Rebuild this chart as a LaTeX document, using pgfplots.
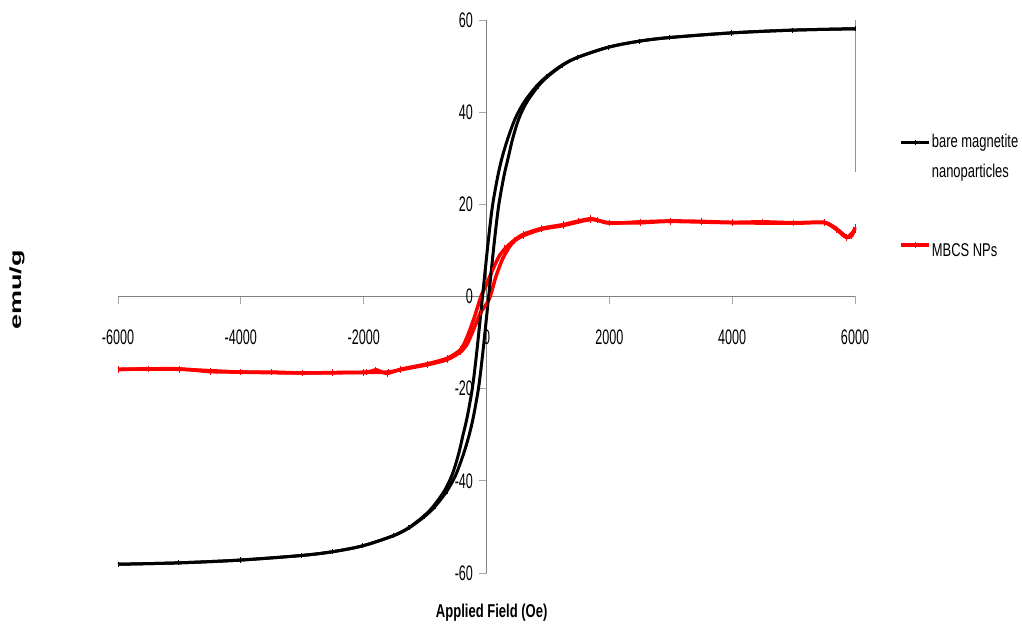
\documentclass[border=0pt]{standalone}
\usepackage{pgfplots}
\pgfplotsset{compat=1.18}
\usepackage{fontspec}
\setmainfont{Liberation Sans}[FakeStretch=0.7]
\newfontfamily\tickfont{Liberation Sans}[FakeStretch=0.6]
\newfontfamily\plainfont{Liberation Sans}
\pgfplotsset{
  redleg/.style={legend image code/.code={\draw[##1,mark repeat=2,mark phase=2] plot coordinates {(0pt,6pt) (14pt,6pt) (28pt,6pt)};}},
  blackleg/.style={legend image code/.code={\draw[##1,mark repeat=2,mark phase=2] plot coordinates {(0pt,14pt) (14pt,14pt) (28pt,14pt)};}},
}
\begin{document}
\begin{tikzpicture}
\useasboundingbox (0,0) rectangle (1022pt,629pt);
\begin{axis}[
 at={(118pt,56pt)}, anchor=south west,
 scale only axis, width=737pt, height=553pt,
 xmin=-6000,xmax=6000,ymin=-60,ymax=60,
 axis lines=middle,
 axis line style={draw=gray, line width=0.9pt, -},
 xtick={-6000,-4000,...,6000}, ytick={-60,-40,...,60},
 hide obscured x ticks=false, hide obscured y ticks=false,
 tick align=outside, major tick length=8pt,
 tick style={draw=gray!70, line width=0.9pt},
 /pgf/number format/assume math mode=true,
 /pgf/number format/1000 sep={},
 every x tick label/.style={font=\tickfont\fontsize{21}{21}\selectfont, anchor=north, yshift=-22pt},
 every y tick label/.style={font=\tickfont\fontsize{21}{21}\selectfont, anchor=east, xshift=-2pt},
 every axis x label/.style={at={(axis description cs:0.507,-0.072)}, anchor=center, font=\bfseries\fontsize{18.6}{20}\selectfont},
 every axis y label/.style={at={(axis description cs:-0.137,0.512)}, anchor=center, rotate=90, yscale=0.6, font=\plainfont\bfseries\fontsize{27}{27}\selectfont},
 xlabel={Applied Field (Oe)},
 ylabel={emu/g},
 clip=false,
 reverse legend,
 legend style={at={(axis description cs:1.064,0.80)}, xshift=-6pt, anchor=north west, draw=none, fill=none,
   font=\fontsize{18.5}{30}\selectfont, row sep=62pt, nodes={align=left, inner sep=1pt}, cells={anchor=base west}},
 legend cell align=left,
]
% MBCS NPs (red)
\addplot[red, line width=3.5pt, smooth, tension=0.4, mark=|, mark size=3.2pt, mark options={line width=1pt}, redleg] coordinates {
(6000,15.0)(5950,13.2)(5865,12.9)(5700,14.7)(5500,16.1)(5000,16.0)(4500,16.2)(4000,16.1)(3500,16.3)(3000,16.4)(2500,16.2)(2000,15.9)(1800,16.6)(1700,16.9)(1500,16.4)(1250,15.6)(900,14.8)(600,13.5)(450,12.2)(300,10.4)(200,8.6)(100,5.8)(0,2.6)(-90,0)(-200,-4.6)(-310,-8.6)(-420,-11.5)(-640,-13.4)(-960,-14.6)(-1400,-15.8)(-1620,-16.7)(-1800,-15.9)(-1950,-16.4)(-2500,-16.5)(-3000,-16.6)(-3500,-16.4)(-4000,-16.4)(-4500,-16.3)(-5000,-15.7)(-5500,-15.7)(-6000,-15.8)
};
\addlegendentry{MBCS NPs}
\addplot[red, line width=3.5pt, smooth, tension=0.4, mark=|, mark size=3.2pt, mark options={line width=1pt}, forget plot] coordinates {
(-6000,-15.8)(-5000,-15.8)(-4000,-16.4)(-3000,-16.6)(-2000,-16.5)(-1600,-16.4)(-1400,-15.9)(-960,-14.8)(-640,-13.7)(-420,-12.0)(-310,-10.2)(-200,-6.8)(-100,-3.6)(0,-1.6)(60,0)(150,4.2)(250,7.8)(350,10.3)(450,12.0)(600,13.2)(900,14.6)(1250,15.4)(1700,16.7)(2000,16.0)(2500,16.0)(3000,16.3)(4000,16.0)(5000,15.9)(5500,16.0)(5700,14.5)(5865,12.8)(6000,14.5)
};
% bare magnetite (black)
\addplot[black, line width=3pt, smooth, mark=|, mark size=2.6pt, mark options={line width=0.8pt}, forget plot] coordinates {
(6000,58.1)(4985,57.8)(3985,57.2)(2985,56.2)(2485,55.4)(1985,54.1)(1482,51.9)(1229,50.2)(975,47.7)(810,45.6)(613,42.2)(467,38.6)(345,34.2)(255,30.2)(185,26.2)(99,19.8)(35,12.8)(-15,6.5)(-65,0)(-115,-6.5)(-165,-12.8)(-229,-19.8)(-315,-26.2)(-385,-30.2)(-455,-34.2)(-557,-38.6)(-687,-42.2)(-870,-45.6)(-1025,-47.7)(-1271,-50.2)(-1518,-51.9)(-2015,-54.1)(-2515,-55.4)(-3015,-56.2)(-4015,-57.2)(-5015,-57.8)(-6000,-58.1)
};
\addplot[black, line width=3pt, smooth, mark=|, mark size=2.6pt, mark options={line width=0.8pt}, blackleg] coordinates {
(-6000,-58.1)(-5015,-57.8)(-4015,-57.2)(-3015,-56.2)(-2515,-55.4)(-2015,-54.1)(-1512,-51.9)(-1259,-50.2)(-1005,-47.7)(-840,-45.6)(-643,-42.2)(-497,-38.6)(-375,-34.2)(-285,-30.2)(-215,-26.2)(-129,-19.8)(-65,-12.8)(-15,-6.5)(35,0)(85,6.5)(135,12.8)(199,19.8)(285,26.2)(355,30.2)(425,34.2)(527,38.6)(657,42.2)(840,45.6)(995,47.7)(1241,50.2)(1488,51.9)(1985,54.1)(2485,55.4)(2985,56.2)(3985,57.2)(4985,57.8)(6000,58.1)
};
\addlegendentry{bare magnetite\\nanoparticles}
% vertical artefact at the end of the red series
\addplot[red!60, line width=0.8pt, forget plot] coordinates {(6000,27)(6000,60)};
\end{axis}
\end{tikzpicture}
\end{document}
